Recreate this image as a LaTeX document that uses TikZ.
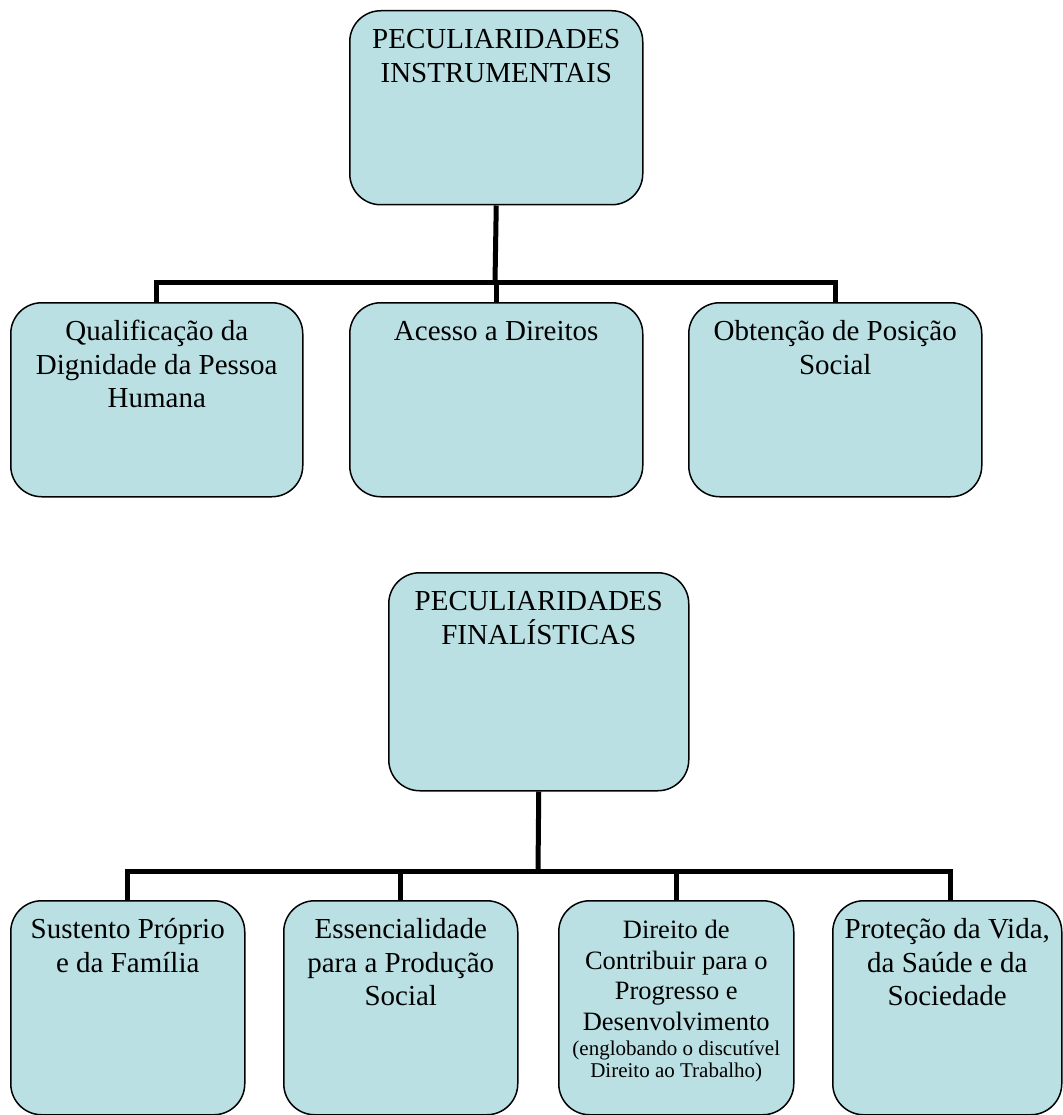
\documentclass[tikz,border=0pt]{standalone}
\usepackage{fontspec}
\setmainfont{Liberation Serif}
\definecolor{boxfill}{RGB}{186,224,227}
\newcommand{\boxtext}[3]{\parbox[c][#2][t]{#1}{\centering\rule{0pt}{38pt}#3}}

\begin{document}
\begin{tikzpicture}[x=1pt,y=-1pt,
    peculiar/.style={draw=black,line width=1.5pt,fill=boxfill,rounded corners=31pt,
      inner sep=0pt,anchor=north west,font=\fontsize{29}{33.5}\selectfont},
    link/.style={line width=5pt}]
  \useasboundingbox (0,0) rectangle (1062,1115);
  % peculiaridades instrumentais
  \node[peculiar] (instr) at (349,10) {\boxtext{293pt}{194pt}{PECULIARIDADES\\INSTRUMENTAIS}};
  \node[peculiar] (qualif) at (10,302) {\boxtext{292pt}{194pt}{Qualificação da\\Dignidade da Pessoa\\Humana}};
  \node[peculiar] (acesso) at (349,302) {\boxtext{293pt}{194pt}{Acesso a Direitos}};
  \node[peculiar] (posicao) at (688,302) {\boxtext{293pt}{194pt}{Obtenção de Posição\\Social}};
  \coordinate (forkI) at (495,282);
  \draw[link] (instr.south) -- (forkI);
  \draw[link] (forkI) -| (qualif.north);
  \draw[link] (forkI) -| (acesso.north);
  \draw[link] (forkI) -| (posicao.north);
  % peculiaridades finalisticas
  \node[peculiar] (final) at (388,572) {\boxtext{300pt}{218pt}{PECULIARIDADES\\FINALÍSTICAS}};
  \node[peculiar] (sustento) at (10,900) {\boxtext{234pt}{214pt}{Sustento Próprio\\e da Família}};
  \node[peculiar] (essenc) at (283,900) {\boxtext{234pt}{214pt}{Essencialidade\\para a Produção\\Social}};
  \node[peculiar] (direito) at (558,900) {\boxtext{235pt}{214pt}{%
    {\fontsize{26.5}{30.5}\selectfont Direito de\\Contribuir para o\\Progresso e\\Desenvolvimento\par}%
    {\fontsize{21}{22}\selectfont\vspace{3.5pt}(englobando o discutível\\Direito ao Trabalho)\par}}};
  \node[peculiar] (protecao) at (832,900) {\boxtext{229pt}{214pt}{Proteção da Vida,\\da Saúde e da\\Sociedade}};
  \coordinate (forkF) at (538,871);
  \draw[link] (final.south) -- (forkF);
  \draw[link] (forkF) -| (sustento.north);
  \draw[link] (forkF) -| (essenc.north);
  \draw[link] (forkF) -| (direito.north);
  \draw[link] (forkF) -| ([xshift=3.5pt]protecao.north);
\end{tikzpicture}
\end{document}
